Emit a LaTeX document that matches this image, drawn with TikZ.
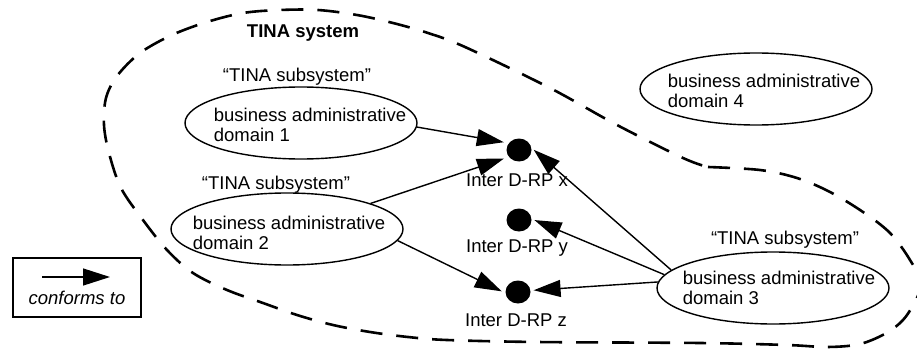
\documentclass[tikz,border=0pt]{standalone}
\usepackage{fontspec}
\setmainfont{Liberation Sans}
\usetikzlibrary{shapes.geometric,arrows.meta}
\begin{document}
\begin{tikzpicture}[x=1pt,y=-1pt,
  every node/.style={font=\fontsize{18.5}{19.5}\selectfont, inner sep=0pt},
  dom/.style={draw, ellipse, minimum width=232pt, minimum height=72pt, line width=1.4pt},
  domtext/.style={align=left},
  dot/.style={fill, ellipse, minimum width=25pt, minimum height=23pt},
  conn/.style={line width=1.4pt, -{Triangle[length=27pt,width=17pt]}},
  boundary/.style={line width=2.6pt, dash pattern=on 22pt off 14pt},
  legendbox/.style={draw, line width=1.4pt, minimum width=128pt, minimum height=59pt}]
\clip (0,0) rectangle (917,350);
\fill[white] (0,0) rectangle (917,350);
% outer dashed boundary
\draw[boundary] plot[smooth, tension=0.55] coordinates {
 (708,167) (760,170) (797,178) (830,192) (863,212) (890,233) (910,260)
 (921,285) (907,315) (888,332) (860,344) (827,347) (787,345) (700,343)
 (537,342) (447,340) (408,337) (370,332) (333,325) (297,315) (263,303)
 (227,290) (193,273) (167,250) (143,220) (121,188) (109,153) (104,125)
 (106,98) (117,76) (140,53) (172,35) (207,22) (243,13) (280,10) (318,10)
 (357,15) (393,23) (428,33) (465,47) (550,88) (617,125) (683,158) (708,167)};
% labels
\node[font=\fontsize{18.5}{19.5}\selectfont\bfseries] (sys) at (303,33) {TINA system};
\node (sub1) at (297,77) {“TINA subsystem”};
\node (sub2) at (276,185) {“TINA subsystem”};
\node (sub3) at (785,240) {“TINA subsystem”};
% domains
\node[dom] (d1) at (301,123) {};
\node[domtext] (d1t) at (310,125) {business administrative\\domain 1};
\node[dom] (d2) at (287,229) {};
\node[domtext] (d2t) at (289,233) {business administrative\\domain 2};
\node[dom] (d4) at (756,89) {};
\node[domtext] (d4t) at (764,91) {business administrative\\domain 4};
\node[dom] (d3) at (773,288) {};
\node[domtext] (d3t) at (779,288) {business administrative\\domain 3};
% reference points
\node[dot] (dx) at (519,150) {};
\node[dot] (dy) at (519,220) {};
\node[dot] (dz) at (518,292) {};
\node (lx) at (517,180) {Inter D-RP x};
\node (ly) at (517,248) {Inter D-RP y};
\node (lz) at (516,320) {Inter D-RP z};
% connectors
\draw[conn, shorten >=5pt] (d1.-2) -- (dx.146);
\draw[conn, shorten >=5pt] (d2.17) -- (dx.214);
\draw[conn, shorten >=4pt] (d2.-6) -- (dz.185);
\draw[conn, shorten >=3pt] (d3.170) -- (dx.10);
\draw[conn, shorten >=3pt] (d3.173) -- (dy.5);
\draw[conn, shorten >=3pt] (d3.177.5) -- (dz.7);
% legend
\node[legendbox] (legend) at (77,287.5) {};
\coordinate (la) at (42,277);
\coordinate (lb) at (110,277);
\draw[conn] (la) -- (lb);
\node[font=\fontsize{18.5}{19.5}\selectfont\itshape] (ltext) at (77,298) {conforms to};
\end{tikzpicture}
\end{document}
